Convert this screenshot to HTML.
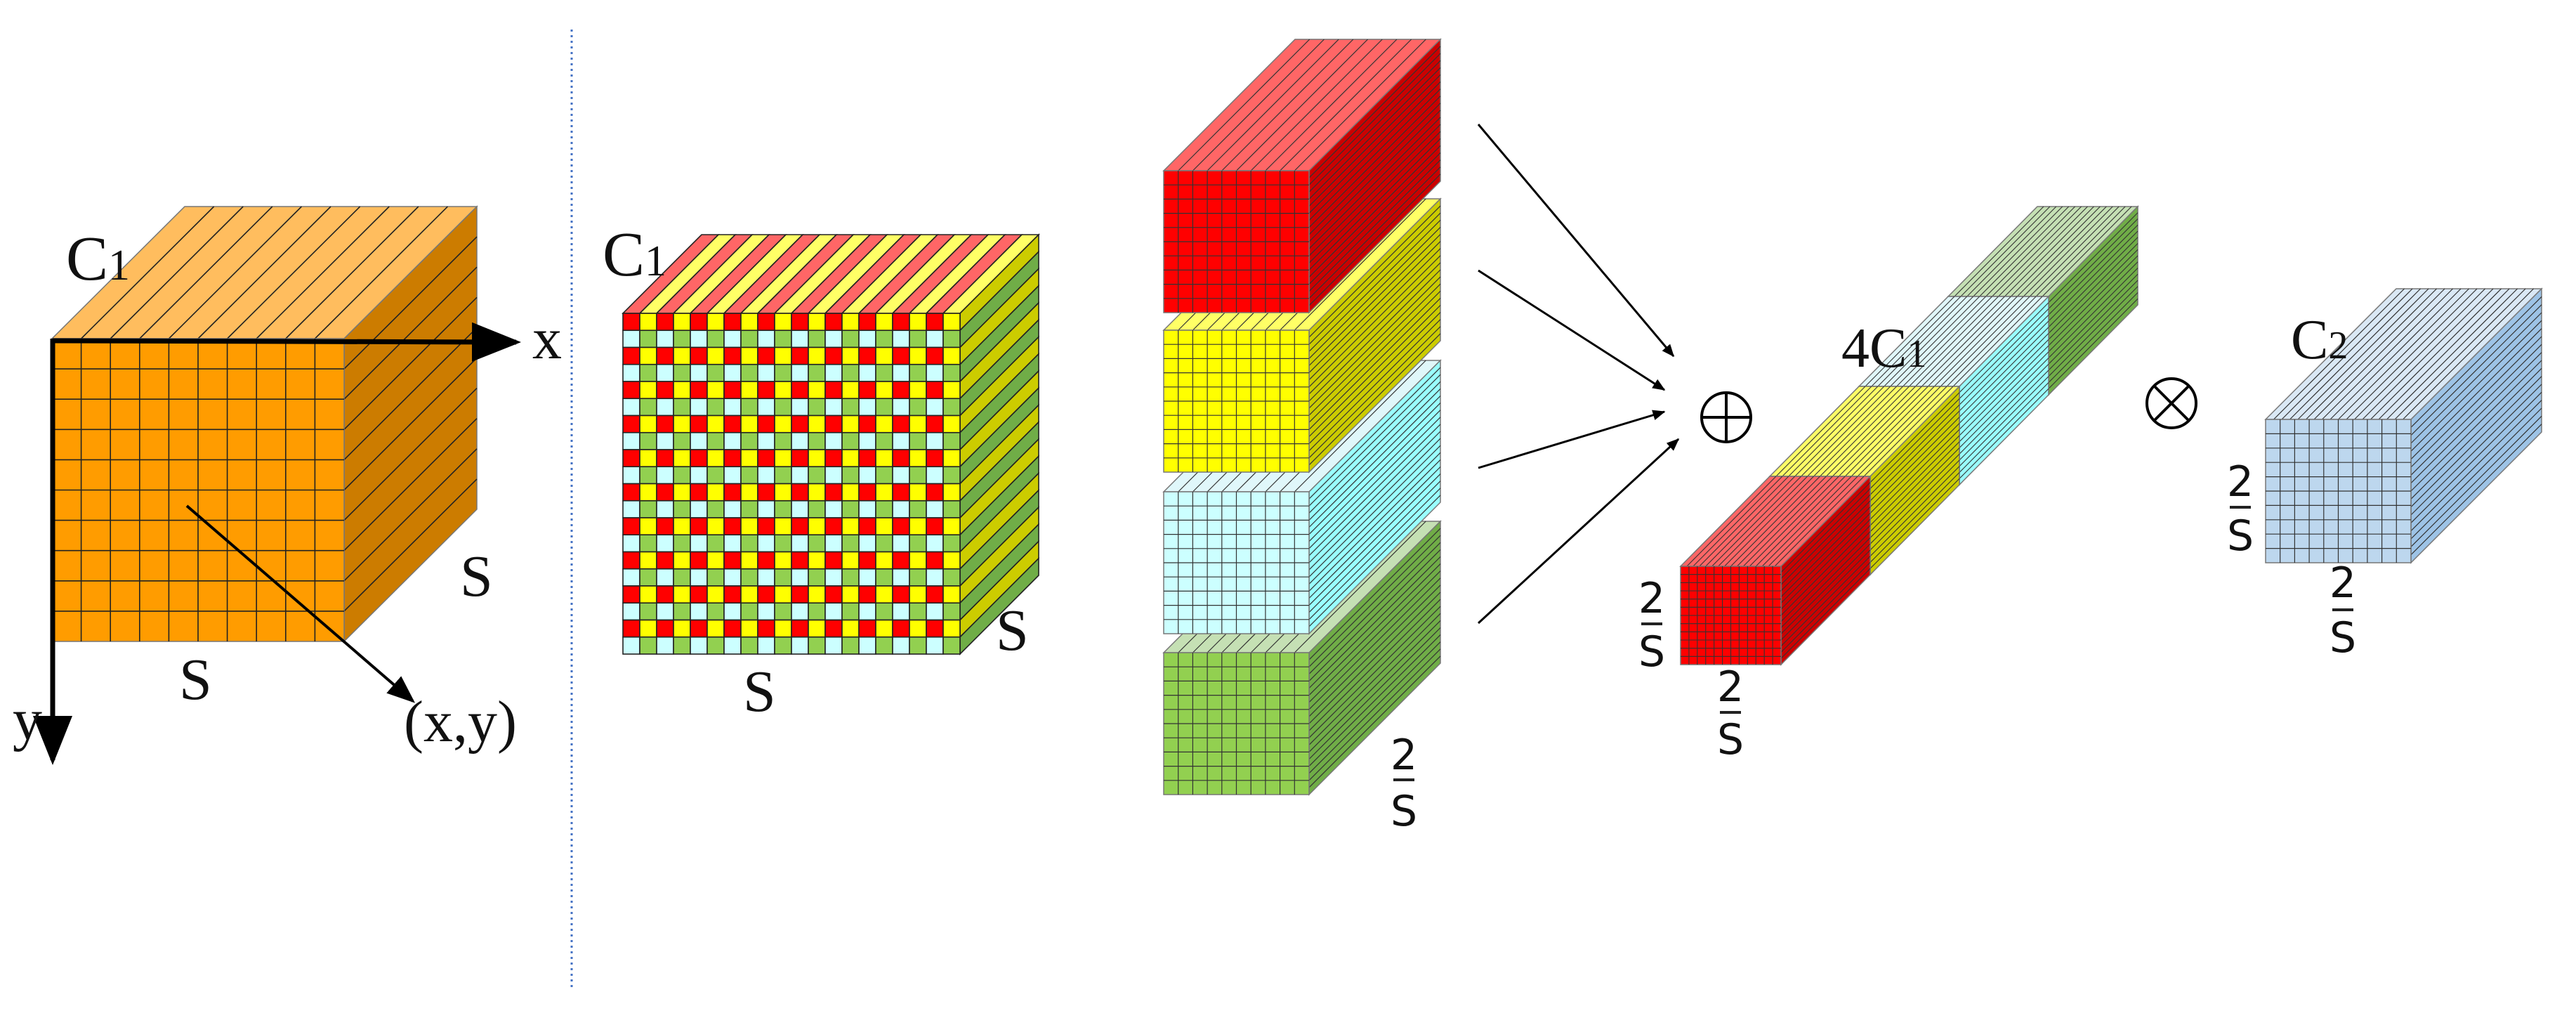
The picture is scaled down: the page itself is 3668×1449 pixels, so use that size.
<!DOCTYPE html>
<html><head><meta charset="utf-8"><style>
html,body{margin:0;padding:0;background:#fff;}
svg{display:block;}
text{font-family:"Liberation Serif",serif;fill:#111;}
.fr{font-family:"DejaVu Sans","Liberation Sans",sans-serif;}
</style></head><body>
<svg id="s" width="3668" height="1449" viewBox="0 0 3668 1449" xmlns="http://www.w3.org/2000/svg">
<defs>
<marker id="ah" markerWidth="10" markerHeight="8" refX="9" refY="4" orient="auto" markerUnits="strokeWidth"><path d="M0,0 L10,4 L0,8 z" fill="#000"/></marker>
<marker id="ah2" markerWidth="6" markerHeight="5" refX="5.5" refY="2.5" orient="auto" markerUnits="strokeWidth"><path d="M0,0 L6,2.5 L0,5 z" fill="#000"/></marker>
</defs>
<g id="g"></g>
<line x1="814" y1="42" x2="814" y2="1408" stroke="#4472c4" stroke-width="3" stroke-dasharray="3,5"/>
<line x1="75" y1="485" x2="735" y2="487" stroke="#000" stroke-width="7" marker-end="url(#ah)"/>
<line x1="75" y1="482" x2="75" y2="1082" stroke="#000" stroke-width="7" marker-end="url(#ah)"/>
<line x1="266" y1="720" x2="588" y2="998" stroke="#000" stroke-width="4" marker-end="url(#ah)"/>
<text x="94" y="398" font-size="90">C<tspan font-size="62">1</tspan></text>
<text x="758" y="510" font-size="84">x</text>
<text x="18" y="1052" font-size="84">y</text>
<text x="255" y="995" font-size="84">S</text>
<text x="655" y="848" font-size="84">S</text>
<text x="575" y="1055" font-size="84">(x,y)</text>
<text x="858" y="392" font-size="90">C<tspan font-size="62">1</tspan></text>
<text x="1418" y="925" font-size="84">S</text>
<text x="1058" y="1012" font-size="84">S</text>
<g stroke="#000" stroke-width="3" marker-end="url(#ah2)">
<line x1="2105" y1="177" x2="2383" y2="507"/>
<line x1="2105" y1="385" x2="2370" y2="555"/>
<line x1="2105" y1="666" x2="2370" y2="586"/>
<line x1="2105" y1="887" x2="2390" y2="625"/>
</g>
<g stroke="#000" stroke-width="4" fill="none">
<circle cx="2458" cy="594" r="35"/><line x1="2423" y1="594" x2="2493" y2="594"/><line x1="2458" y1="559" x2="2458" y2="629"/>
<circle cx="3092" cy="574" r="35"/><line x1="3068" y1="550" x2="3116" y2="598"/><line x1="3116" y1="550" x2="3068" y2="598"/>
</g>
<text x="2622" y="522" font-size="80">4C<tspan font-size="56">1</tspan></text>
<text x="3262" y="510" font-size="80">C<tspan font-size="56">2</tspan></text>
<g class="fr" font-size="60" text-anchor="middle">
<text class="fr" x="1999" y="1095">2</text><rect x="1984" y="1108" width="30" height="4" fill="#222"/><text class="fr" x="1999" y="1175">S</text>
<text class="fr" x="2352" y="872">2</text><rect x="2337" y="886" width="30" height="4" fill="#222"/><text class="fr" x="2352" y="948">S</text>
<text class="fr" x="2464" y="998">2</text><rect x="2449" y="1012" width="30" height="4" fill="#222"/><text class="fr" x="2464" y="1073">S</text>
<text class="fr" x="3190" y="706">2</text><rect x="3175" y="720" width="30" height="4" fill="#222"/><text class="fr" x="3190" y="783">S</text>
<text class="fr" x="3336" y="850">2</text><rect x="3321" y="866" width="30" height="4" fill="#222"/><text class="fr" x="3336" y="928">S</text>
</g>
</svg>
<script>
var NS="http://www.w3.org/2000/svg",G=document.getElementById("g");
function el(t,a){var e=document.createElementNS(NS,t);for(var k in a)e.setAttribute(k,a[k]);G.appendChild(e);return e;}
function pts(a){return a.map(function(p){return p[0]+","+p[1];}).join(" ");}
function box(o){
 var x=o.x,y=o.y,w=o.w,h=o.h,dx=o.dx,dy=o.dy,sc=o.stroke||"#333",sw=o.sw||1.5;
 if(o.topCols){var n=o.topCols.length;for(var i=0;i<n;i++){var a=x+i*w/n,b=x+(i+1)*w/n;el("polygon",{points:pts([[a,y],[a+dx,y-dy],[b+dx,y-dy],[b,y]]),fill:o.topCols[i],stroke:sc,"stroke-width":sw});}}
 else{el("polygon",{points:pts([[x,y],[x+dx,y-dy],[x+w+dx,y-dy],[x+w,y]]),fill:o.top,stroke:"#777","stroke-width":1.5});
  for(var i=1;i<o.tn;i++){var a=x+i*w/o.tn;el("line",{x1:a,y1:y,x2:a+dx,y2:y-dy,stroke:sc,"stroke-width":sw});}}
 if(o.sideCols){var m=o.sideCols.length;for(var j=0;j<m;j++){var a=y+j*h/m,b=y+(j+1)*h/m;el("polygon",{points:pts([[x+w,a],[x+w+dx,a-dy],[x+w+dx,b-dy],[x+w,b]]),fill:o.sideCols[j],stroke:sc,"stroke-width":sw});}}
 else{el("polygon",{points:pts([[x+w,y],[x+w+dx,y-dy],[x+w+dx,y+h-dy],[x+w,y+h]]),fill:o.side,stroke:"#777","stroke-width":1.5});
  for(var j=1;j<o.sn;j++){var a=y+j*h/o.sn;el("line",{x1:x+w,y1:a,x2:x+w+dx,y2:a-dy,stroke:sc,"stroke-width":sw});}}
 if(o.cell){var c=o.fc,r=o.fr;for(var i=0;i<c;i++)for(var j=0;j<r;j++)el("rect",{x:x+i*w/c,y:y+j*h/r,width:w/c,height:h/r,fill:o.cell(i,j),stroke:sc,"stroke-width":sw});}
 else{el("rect",{x:x,y:y,width:w,height:h,fill:o.front,stroke:"#777","stroke-width":1.5});
  for(var i=1;i<o.fc;i++){var a=x+i*w/o.fc;el("line",{x1:a,y1:y,x2:a,y2:y+h,stroke:sc,"stroke-width":sw});}
  for(var j=1;j<o.fr;j++){var a=y+j*h/o.fr;el("line",{x1:x,y1:a,x2:x+w,y2:a,stroke:sc,"stroke-width":sw});}}
}
box({x:74,y:482,w:416,h:431,dx:189,dy:188,front:"#ff9c00",top:"#ffbd5e",side:"#cc7c00",fc:10,fr:10,tn:10,sn:10,stroke:"#222",sw:1.6});
var tc=[],scl=[];for(var i=0;i<20;i++){tc.push(i%2?"#ffff66":"#ff6666");scl.push(i%2?"#70ad47":"#cccc00");}
box({x:887,y:446,w:480,h:485,dx:112,dy:112,topCols:tc,sideCols:scl,fc:20,fr:20,stroke:"#222",sw:1.6,
 cell:function(i,j){return j%2==0?(i%2?"#ffff00":"#ff0000"):(i%2?"#92d050":"#ccffff");}});
var st=[[929,"#92d050","#c5e0b4","#70ad47"],[700,"#ccffff","#e0f7fa","#99ffff"],[470,"#ffff00","#ffff66","#cccc00"],[243,"#ff0000","#ff6666","#cc0000"]];
st.forEach(function(s){box({x:1657,y:s[0],w:207,h:202,dx:187,dy:187,front:s[1],top:s[2],side:s[3],fc:10,fr:10,tn:10,sn:20,stroke:"#333",sw:1.2});});
var ch=[[3,"#92d050","#c5e0b4","#70ad47"],[2,"#ccffff","#e0f7fa","#99ffff"],[1,"#ffff00","#ffff66","#cccc00"],[0,"#ff0000","#ff6666","#cc0000"]];
ch.forEach(function(s){var k=s[0];box({x:2393+k*127,y:806-k*128,w:143,h:140,dx:127,dy:128,front:s[1],top:s[2],side:s[3],fc:12,fr:12,tn:16,sn:16,stroke:"#333",sw:1.1});});
box({x:3226,y:597,w:207,h:204,dx:186,dy:186,front:"#bdd7ee",top:"#dae8f5",side:"#9dc3e6",fc:10,fr:10,tn:18,sn:18,stroke:"#333",sw:1.2});
</script>
</body></html>
